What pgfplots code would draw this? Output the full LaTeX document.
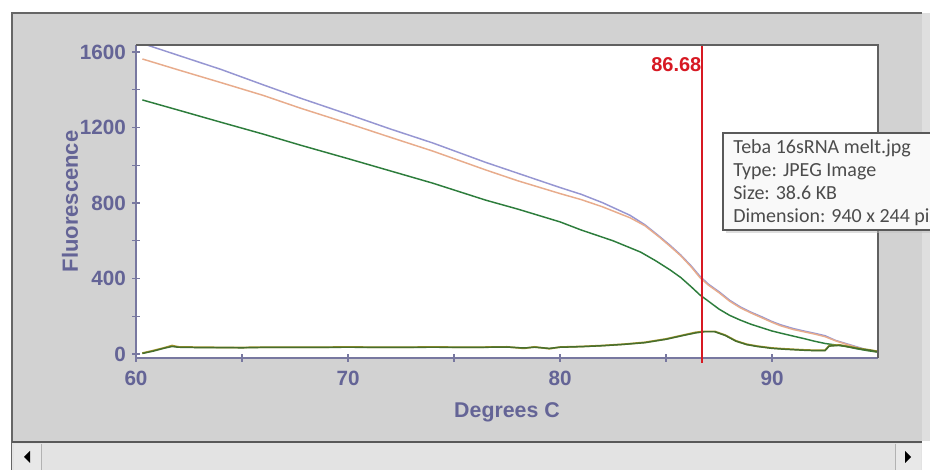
\documentclass[border=0pt]{standalone}
\usepackage{pgfplots}
\pgfplotsset{compat=1.18}
\usepackage{fontspec}
\setmainfont{Liberation Sans}
\newfontfamily\tipfont{Carlito}
\definecolor{panel}{RGB}{210,210,210}
\definecolor{slate}{RGB}{100,100,150}
\definecolor{axline}{RGB}{120,120,160}
\definecolor{cblue}{RGB}{150,150,210}
\definecolor{corange}{RGB}{232,172,140}
\definecolor{cgreen}{RGB}{45,125,60}
\definecolor{colive}{RGB}{165,150,45}
\definecolor{cdgreen}{RGB}{70,110,45}
\definecolor{meltred}{RGB}{215,25,35}
\begin{document}
\begin{tikzpicture}
\path[use as bounding box] (0,0) rectangle (697.5pt,352.5pt);
\begin{scope}[x=0.75pt,y=-0.75pt,shift={(0,352.5pt)}]
  \fill[white] (0,0) rectangle (930,470);
  \fill[panel] (12,13) rectangle (922,441);
  \draw[gray!80!black,line width=1pt] (12,470) -- (12,13) -- (922,13);
  \fill[gray!25] (922,13) rectangle (930,441);
  % scrollbar
  \fill[gray!22] (12,442) rectangle (922,470);
  \draw[gray!70!black,line width=1.2pt] (12,442) -- (922,442);
  \fill[gray!18] (14,444) rectangle (41,470);
  \draw[gray!60] (41,444) -- (41,470);
  \fill[gray!18] (895,444) rectangle (921,470);
  \draw[gray!60] (895,444) -- (895,470);
  \fill[black] (24,457) -- (30,451) -- (30,463) -- cycle;
  \fill[black] (911,457) -- (905,451) -- (905,463) -- cycle;
  \fill[white] (136,45) rectangle (878,358);
\end{scope}
\begin{axis}[
  at={(102pt,84pt)}, anchor=south west,
  scale only axis, width=556.5pt, height=234.75pt,
  xmin=60, xmax=95, ymin=-21, ymax=1637,
  axis lines*=left,
  axis line style={draw=axline, line width=1pt, -},
  xtick={60,70,80,90}, minor xtick={65,75,85},
  ytick={0,400,800,1200,1600}, minor ytick={200,600,1000,1400},
  tick align=center,
  major tick length=6pt, minor tick length=6pt,
  every tick/.style={draw=axline, line width=1pt},
  /pgf/number format/.cd, set thousands separator={}, assume math mode=true,
  /pgfplots/.cd,
  tick label style={font=\fontsize{15.5}{18}\selectfont\bfseries, text=slate},
  xticklabel style={yshift=-3pt},
  yticklabel style={xshift=-1pt},
  xlabel={Degrees C}, ylabel={Fluorescence},
  every axis x label/.style={at={(axis description cs:0.5,-0.1725)}, anchor=center,
     font=\fontsize{16}{19}\selectfont\bfseries, text=slate},
  every axis y label/.style={at={(axis description cs:-0.0889,0.5)}, rotate=90, anchor=center,
     font=\fontsize{16.5}{19}\selectfont\bfseries, text=slate},
  clip mode=individual,
]
% blue
\addplot[draw=cblue, line width=1.1pt] coordinates {
(60.3,1645)(62,1582)(64,1508)(66,1426)(67.74,1356)(70,1270)(72,1192)(74,1118)(76.5,1015)(78,958)(80,882)(81,846)(82,802)(83.3,735)(84,685)(84.7,622)(85.2,575)(85.7,524)(86.2,465)(86.6,412)(87,370)(87.5,330)(88,285)(88.5,250)(89,222)(89.5,198)(90,172)(90.4,155)(91,135)(91.5,122)(92,110)(92.5,97)(93,72)(93.5,55)(94,38)(94.5,22)(95,12)};
% orange
\addplot[draw=corange, line width=1.1pt] coordinates {
(60.3,1563)(62,1505)(64,1438)(66,1370)(67.74,1303)(70,1222)(72,1148)(74,1075)(76.5,975)(78,918)(80,850)(81,818)(82,780)(83.3,722)(84,680)(84.7,618)(85.2,570)(85.7,520)(86.2,460)(86.6,405)(87,365)(87.5,325)(88,280)(88.5,245)(89,218)(89.5,193)(90,168)(90.4,150)(91,130)(91.5,118)(92,106)(92.5,92)(93,70)(93.5,52)(94,35)(94.5,20)(95,10)};
% green
\addplot[draw=cgreen, line width=1.1pt] coordinates {
(60.3,1346)(62,1292)(64,1228)(66,1165)(67.74,1107)(70,1035)(72,970)(74,905)(76.5,815)(78,768)(80,700)(81,657)(82.5,600)(83.8,540)(84.5,495)(85.2,445)(85.7,405)(86.2,355)(86.6,313)(87,280)(87.5,238)(88,205)(88.5,180)(89,158)(89.5,140)(90,122)(90.4,111)(91,95)(91.5,82)(92,68)(92.5,56)(93,48)(93.5,40)(94,28)(94.5,18)(95,10)};
% low curves
\addplot[draw=colive, line width=1.3pt] coordinates {
(60.3,5)(60.8,18)(61.3,32)(61.7,45)(62,38)(63,36)(64,35)(65,35)(66,36)(68,36)(70,37)(72,36)(74,37)(76,36)(77.5,38)(78.3,30)(78.8,38)(79.5,28)(80,37)(81,40)(82,45)(83,52)(84,62)(85,80)(85.8,100)(86.4,115)(86.8,120)(87.3,120)(87.8,100)(88.3,70)(88.8,52)(89.3,42)(90,32)(90.5,28)(91,25)(91.5,22)(92,20)(92.5,20)(92.7,45)(93.2,48)(93.7,38)(94.2,28)(94.6,22)(95,14)};
\addplot[draw=cdgreen, line width=1.1pt] coordinates {
(60.3,3)(60.8,15)(61.3,30)(61.7,40)(62,36)(63,34)(64,34)(65,33)(66,35)(68,35)(70,36)(72,35)(74,36)(76,35)(77.5,37)(78.3,32)(78.8,36)(79.5,30)(80,36)(81,39)(82,44)(83,51)(84,60)(85,78)(85.8,98)(86.4,112)(86.8,118)(87.3,118)(87.8,98)(88.3,68)(88.8,50)(89.3,40)(90,30)(90.5,26)(91,23)(91.5,20)(92,18)(92.5,18)(92.7,42)(93.2,46)(93.7,36)(94.2,26)(94.6,20)(95,12)};
% melting point marker line
\draw[draw=meltred, line width=1.4pt] (axis cs:86.68,-45) -- (axis cs:86.68,1637);
\node[anchor=east, text=meltred, font=\fontsize{15}{18}\selectfont\bfseries, inner sep=0pt] at (axis cs:86.68,1535) {86.68};
\draw[gray!75!black, line width=1pt] (axis description cs:0,1) -- (axis description cs:1,1) -- (axis description cs:1,0);
\end{axis}
\begin{scope}[x=0.75pt,y=-0.75pt,shift={(0,352.5pt)}]
  \fill[black!25, opacity=0.5] (726,136) rectangle (945,233);
  \draw[gray!70!black, fill=gray!5, line width=0.8pt] (723,133) rectangle (945,230);
  \node[anchor=north west, align=left, inner sep=0pt, text=black!70,
        font=\tipfont\fontsize{15}{17.3}\selectfont] at (733,139)
        {Teba 16sRNA melt.jpg\\Type: JPEG Image\\Size: 38.6 KB\\Dimension: 940 x 244 pix};
\end{scope}
\end{tikzpicture}
\end{document}
